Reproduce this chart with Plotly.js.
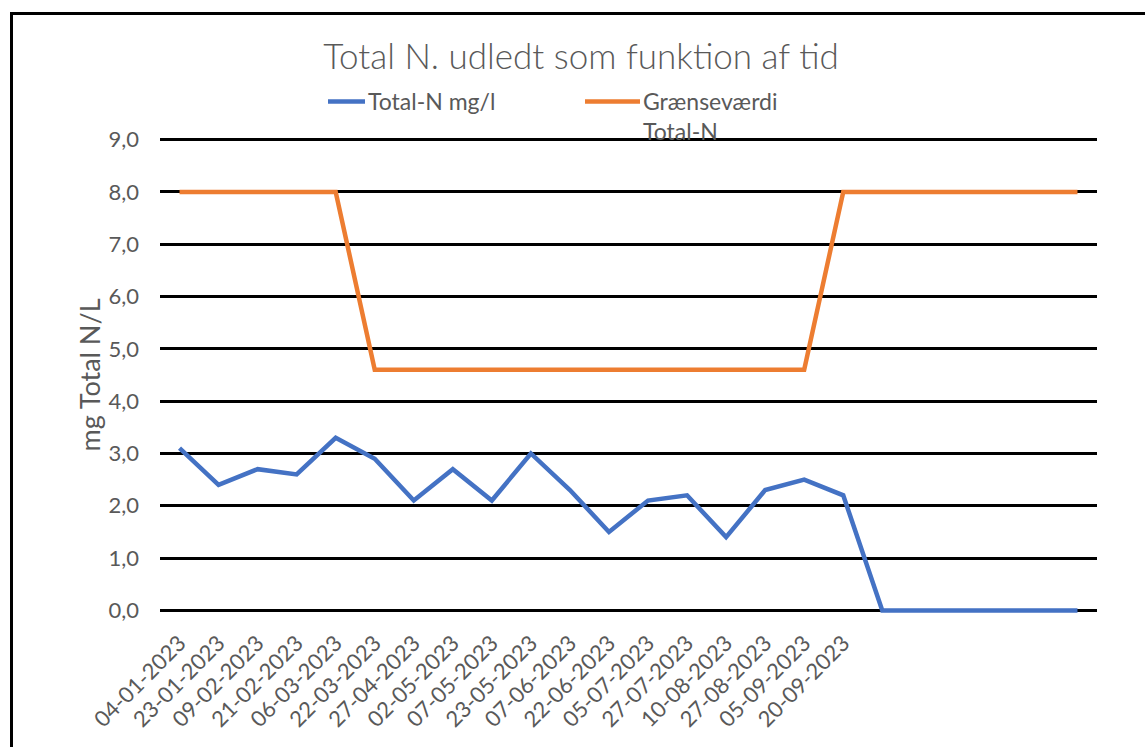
<!DOCTYPE html>
<html>
<head>
<meta charset="utf-8">
<script src="https://cdn.plot.ly/plotly-3.0.1.min.js"></script>
<style>
  html, body { margin: 0; padding: 0; background: #fff; overflow: hidden; }
  #chart { width: 1145px; height: 747px; position: absolute; left: 0; top: 0; }
  #frame { position: absolute; left: 10px; top: 12px; width: 1200px; height: 800px;
           border: 3px solid #000; pointer-events: none; }
</style>
</head>
<body>
<div id="chart"></div>
<div id="frame"></div>
<script>
// Category (date) labels; last six categories carry no label
const categories = [
  "04-01-2023", "23-01-2023", "09-02-2023", "21-02-2023", "06-03-2023", "22-03-2023",
  "27-04-2023", "02-05-2023", "07-05-2023", "23-05-2023", "07-06-2023", "22-06-2023",
  "05-07-2023", "27-07-2023", "10-08-2023", "27-08-2023", "05-09-2023", "20-09-2023",
  "", "", "", "", "", ""
];
// Total-N mg/l
const totalN = [3.1, 2.4, 2.7, 2.6, 3.3, 2.9, 2.1, 2.7, 2.1, 3.0, 2.3, 1.5,
                2.1, 2.2, 1.4, 2.3, 2.5, 2.2, 0, 0, 0, 0, 0, 0];
// Grænseværdi Total-N
const limitN = [8, 8, 8, 8, 8, 4.6, 4.6, 4.6, 4.6, 4.6, 4.6, 4.6,
                4.6, 4.6, 4.6, 4.6, 4.6, 8, 8, 8, 8, 8, 8, 8];
const yTicks = [0, 1, 2, 3, 4, 5, 6, 7, 8, 9];

const idx = categories.map((_, i) => i);
const FONT = "Lato, 'Open Sans', sans-serif";
const GREY = "#595959";

const traces = [
  { x: idx, y: totalN, type: "scatter", mode: "lines", name: "Total-N mg/l",
    line: { color: "#4472C4", width: 4.5 }, hoverinfo: "y" },
  { x: idx, y: limitN, type: "scatter", mode: "lines", name: "Grænseværdi<br>Total-N",
    line: { color: "#ED7D31", width: 4.5 }, hoverinfo: "y" }
];

const layout = {
  width: 1145, height: 747,
  paper_bgcolor: "#ffffff", plot_bgcolor: "#ffffff",
  separators: ",.",
  margin: { l: 160, r: 48, t: 137, b: 134, pad: 0, autoexpand: false },
  font: { family: FONT, color: GREY, size: 22 },
  title: {
    text: "Total N. udledt som funktion af tid",
    font: { family: FONT, size: 35, color: GREY, weight: 300 },
    xref: "container", x: 581 / 1145, xanchor: "center",
    yref: "container", y: 1 - 57 / 747, yanchor: "middle",
    automargin: false
  },
  showlegend: true,
  legend: {
    orientation: "h",
    xref: "container", x: 328 / 1145, xanchor: "left",
    yref: "container", y: 1 - 80 / 747, yanchor: "top",
    valign: "top",
    font: { family: FONT, size: 23, color: GREY },
    entrywidth: 230, entrywidthmode: "pixels",
    bgcolor: "rgba(0,0,0,0)"
  },
  xaxis: {
    type: "linear",
    range: [-0.5, categories.length - 0.5],
    tickmode: "array", tickvals: idx, ticktext: categories,
    tickangle: -45,
    tickfont: { family: FONT, size: 22, color: GREY },
    showgrid: false, zeroline: false, showline: false, ticks: "",
    ticklabelstandoff: 12,
    fixedrange: true
  },
  yaxis: {
    range: [-0.05, 9.05],
    tickmode: "array", tickvals: yTicks,
    tickformat: ".1f",
    tickfont: { family: FONT, size: 22, color: GREY },
    showgrid: true, gridcolor: "#000000", gridwidth: 3,
    zeroline: false, showline: false, ticks: "",
    ticklabelstandoff: 20,
    title: { text: "mg Total N/L", font: { family: FONT, size: 27, color: GREY }, standoff: 0 },
    fixedrange: true
  }
};

Plotly.newPlot("chart", traces, layout, { displayModeBar: false, staticPlot: true }).then(gd => {
  // Longer legend line samples, as in the original legend
  gd.querySelectorAll(".legend .legendlines path").forEach(p => p.setAttribute("d", "M-18,0h55"));
});
</script>
</body>
</html>
